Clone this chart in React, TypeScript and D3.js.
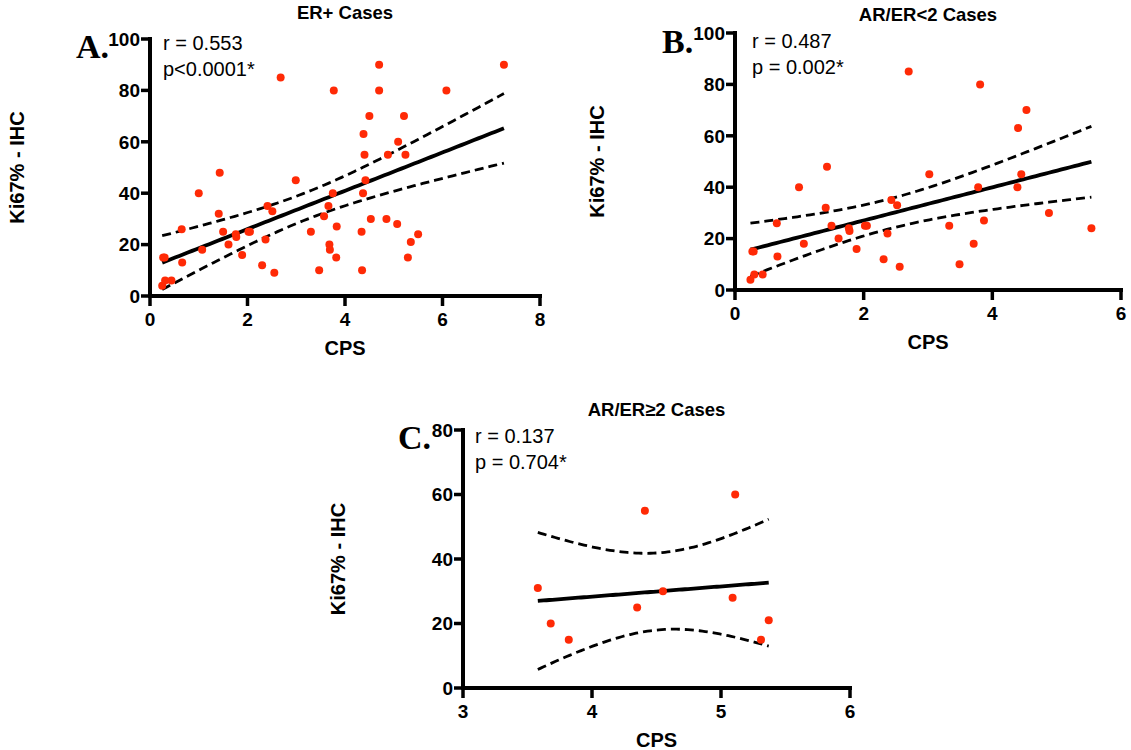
import React from "react";
import * as d3 from "d3";

// ---------- DATA ----------
// Panel A: ER+ cases
const cpsA = [0.25, 0.31, 0.44, 0.27, 0.3, 0.65, 0.66, 1.0, 1.07, 1.41, 1.43, 1.5, 1.61, 1.76, 1.77, 1.89, 2.02, 2.05, 2.3, 2.37, 2.41, 2.51, 2.55, 2.68, 2.99, 3.3, 3.47, 3.57, 3.66, 3.68, 3.69, 3.75, 3.77, 3.82, 3.83, 4.34, 4.35, 4.37, 4.38, 4.4, 4.42, 4.5, 4.53, 4.7, 4.7, 4.85, 4.88, 5.07, 5.09, 5.21, 5.24, 5.29, 5.35, 5.5, 6.08, 7.26];
const ki67A = [4, 6, 6, 15, 15, 26, 13, 40, 18, 32, 48, 25, 20, 24, 23, 16, 25, 25, 12, 22, 35, 33, 9, 85, 45, 25, 10, 31, 35, 20, 18, 40, 80, 15, 27, 25, 10, 40, 63, 55, 45, 70, 30, 80, 90, 30, 55, 28, 60, 70, 55, 15, 21, 24, 80, 90];

// Panel B: AR/ER<2 cases
const cpsB = [0.24, 0.3, 0.43, 0.27, 0.29, 0.65, 0.66, 0.995, 1.07, 1.41, 1.43, 1.5, 1.61, 1.77, 1.78, 1.89, 2.02, 2.05, 2.31, 2.37, 2.43, 2.52, 2.56, 2.7, 3.02, 3.33, 3.49, 3.71, 3.78, 3.81, 3.87, 4.39, 4.4, 4.45, 4.53, 4.88, 5.54];
const ki67B = [4, 6, 6, 15, 15, 26, 13, 40, 18, 32, 48, 25, 20, 24, 23, 16, 25, 25, 12, 22, 35, 33, 9, 85, 45, 25, 10, 18, 40, 80, 27, 40, 63, 45, 70, 30, 24];

// Panel C: AR/ER>=2 cases
const cpsC = [3.58, 3.68, 3.82, 4.35, 4.41, 4.55, 5.09, 5.11, 5.31, 5.37];
const ki67C = [31, 20, 15, 25, 55, 30, 28, 60, 15, 21];

const titles = ["ER+ Cases", "AR/ER<2 Cases", "AR/ER\u22652 Cases"];
const letters = ["A.", "B.", "C."];
const rTexts = ["r = 0.553", "r = 0.487", "r = 0.137"];
const pTexts = ["p<0.0001*", "p = 0.002*", "p = 0.704*"];
const xTicksA = [0, 2, 4, 6, 8];
const xTicksB = [0, 2, 4, 6];
const xTicksC = [3, 4, 5, 6];
const yTicksAB = [0, 20, 40, 60, 80, 100];
const yTicksC = [0, 20, 40, 60, 80];
const xLabel = "CPS";
const yLabel = "Ki67% - IHC";

// ---------- STATS ----------
function tQuantile975(df: number) {
  const z = 1.959963985;
  const z3 = z ** 3, z5 = z ** 5, z7 = z ** 7, z9 = z ** 9;
  return (
    z +
    (z3 + z) / (4 * df) +
    (5 * z5 + 16 * z3 + 3 * z) / (96 * df ** 2) +
    (3 * z7 + 19 * z5 + 17 * z3 - 15 * z) / (384 * df ** 3) +
    (79 * z9 + 776 * z7 + 1482 * z5 - 1920 * z3 - 945 * z) / (92160 * df ** 4)
  );
}

function fit(xs: number[], ys: number[]) {
  const n = xs.length;
  const mx = d3.mean(xs)!;
  const my = d3.mean(ys)!;
  let sxx = 0, sxy = 0, syy = 0;
  for (let i = 0; i < n; i++) {
    sxx += (xs[i] - mx) ** 2;
    sxy += (xs[i] - mx) * (ys[i] - my);
    syy += (ys[i] - my) ** 2;
  }
  const b = sxy / sxx;
  const a = my - b * mx;
  const s = Math.sqrt((syy - (sxy * sxy) / sxx) / (n - 2));
  const t = tQuantile975(n - 2);
  const [x0, x1] = d3.extent(xs) as [number, number];
  const grid = d3.range(0, 81).map((i) => x0 + ((x1 - x0) * i) / 80);
  const pts = grid.map((x) => {
    const yh = a + b * x;
    const se = s * Math.sqrt(1 / n + (x - mx) ** 2 / sxx);
    return { x, y: yh, lo: yh - t * se, hi: yh + t * se };
  });
  return { pts };
}

// ---------- PANEL ----------
type PanelProps = {
  xs: number[];
  ys: number[];
  xDomain: [number, number];
  yDomain: [number, number];
  xRange: [number, number];
  yRange: [number, number];
  xTicks: number[];
  yTicks: number[];
  title: string;
  letter: string;
  rText: string;
  pText: string;
  letterX: number;
  letterY: number;
  titleY: number;
  yLabelX: number;
  statX: number;
  statY: number;
};

const RED = "#ff2a06";
const SANS = "Liberation Sans, Arial, Helvetica, sans-serif";
const SERIF = "Liberation Serif, Times New Roman, serif";

function Panel(p: PanelProps) {
  const x = d3.scaleLinear().domain(p.xDomain).range(p.xRange);
  const y = d3.scaleLinear().domain(p.yDomain).range(p.yRange);
  const { pts } = fit(p.xs, p.ys);
  const line = d3.line<{ x: number; v: number }>().x((d) => x(d.x)).y((d) => y(d.v));
  const mid = line(pts.map((d) => ({ x: d.x, v: d.y })))!;
  const lo = line(pts.map((d) => ({ x: d.x, v: d.lo })))!;
  const hi = line(pts.map((d) => ({ x: d.x, v: d.hi })))!;
  const ax = p.xRange[0];
  const ay = p.yRange[0];
  const cx = (p.xRange[0] + p.xRange[1]) / 2;
  const cy = (p.yRange[0] + p.yRange[1]) / 2;
  return (
    <g>
      <text x={cx} y={p.titleY} textAnchor="middle" fontFamily={SANS} fontWeight="bold" fontSize={18.5}>
        {p.title}
      </text>
      <text x={p.letterX} y={p.letterY} fontFamily={SERIF} fontWeight="bold" fontSize={34}>
        {p.letter}
      </text>
      {/* y axis */}
      <line x1={ax} x2={ax} y1={p.yRange[1] - 2} y2={ay + 2} stroke="#000" strokeWidth={4} />
      {p.yTicks.map((t) => (
        <g key={"y" + t}>
          <line x1={ax - 9} x2={ax} y1={y(t)} y2={y(t)} stroke="#000" strokeWidth={3.5} />
          <text x={ax - 10} y={y(t)} dy="0.36em" textAnchor="end" fontFamily={SANS} fontWeight="bold" fontSize={19}>
            {t}
          </text>
        </g>
      ))}
      {/* x axis */}
      <line x1={ax} x2={p.xRange[1] + 2} y1={ay} y2={ay} stroke="#000" strokeWidth={4} />
      {p.xTicks.map((t) => (
        <g key={"x" + t}>
          <line x1={x(t)} x2={x(t)} y1={ay} y2={ay + 10} stroke="#000" strokeWidth={3.5} />
          <text x={x(t)} y={ay + 29.5} textAnchor="middle" fontFamily={SANS} fontWeight="bold" fontSize={19}>
            {t}
          </text>
        </g>
      ))}
      <text x={cx} y={ay + 59} textAnchor="middle" fontFamily={SANS} fontWeight="bold" fontSize={20}>
        {xLabel}
      </text>
      <text
        transform={`translate(${p.yLabelX},${cy}) rotate(-90)`}
        textAnchor="middle"
        dy="0.36em"
        fontFamily={SANS}
        fontWeight="bold"
        fontSize={20}
      >
        {yLabel}
      </text>
      {/* fit */}
      <path d={hi} fill="none" stroke="#000" strokeWidth={2.8} strokeDasharray="9,5" />
      <path d={lo} fill="none" stroke="#000" strokeWidth={2.8} strokeDasharray="9,5" />
      <path d={mid} fill="none" stroke="#000" strokeWidth={3.8} />
      {p.xs.map((v, i) => (
        <circle key={i} cx={x(v)} cy={y(p.ys[i])} r={4} fill={RED} />
      ))}
      <text x={p.statX} y={p.statY} fontFamily={SANS} fontSize={20}>
        {p.rText}
      </text>
      <text x={p.statX} y={p.statY + 26} fontFamily={SANS} fontSize={20}>
        {p.pText}
      </text>
    </g>
  );
}

export default function App() {
  return (
    <svg
      width={1131}
      height={750}
      style={{ position: "absolute", left: 0, top: 0, display: "block", background: "#fff" }}
    >
      <rect width={1131} height={750} fill="#fff" />
      <Panel
        xs={cpsA}
        ys={ki67A}
        xDomain={[0, 8]}
        yDomain={[0, 100]}
        xRange={[150, 540]}
        yRange={[296, 39]}
        xTicks={xTicksA}
        yTicks={yTicksAB}
        title={titles[0]}
        letter={letters[0]}
        rText={rTexts[0]}
        pText={pTexts[0]}
        letterX={76}
        letterY={58}
        titleY={19}
        yLabelX={16.5}
        statX={163}
        statY={50}
      />
      <Panel
        xs={cpsB}
        ys={ki67B}
        xDomain={[0, 6]}
        yDomain={[0, 100]}
        xRange={[735, 1121]}
        yRange={[290, 33]}
        xTicks={xTicksB}
        yTicks={yTicksAB}
        title={titles[1]}
        letter={letters[1]}
        rText={rTexts[1]}
        pText={pTexts[1]}
        letterX={662}
        letterY={53}
        titleY={21}
        yLabelX={597}
        statX={752}
        statY={48}
      />
      <Panel
        xs={cpsC}
        ys={ki67C}
        xDomain={[3, 6]}
        yDomain={[0, 80]}
        xRange={[463, 850]}
        yRange={[688, 430]}
        xTicks={xTicksC}
        yTicks={yTicksC}
        title={titles[2]}
        letter={letters[2]}
        rText={rTexts[2]}
        pText={pTexts[2]}
        letterX={398}
        letterY={449}
        titleY={416}
        yLabelX={338}
        statX={475}
        statY={443}
      />
    </svg>
  );
}
